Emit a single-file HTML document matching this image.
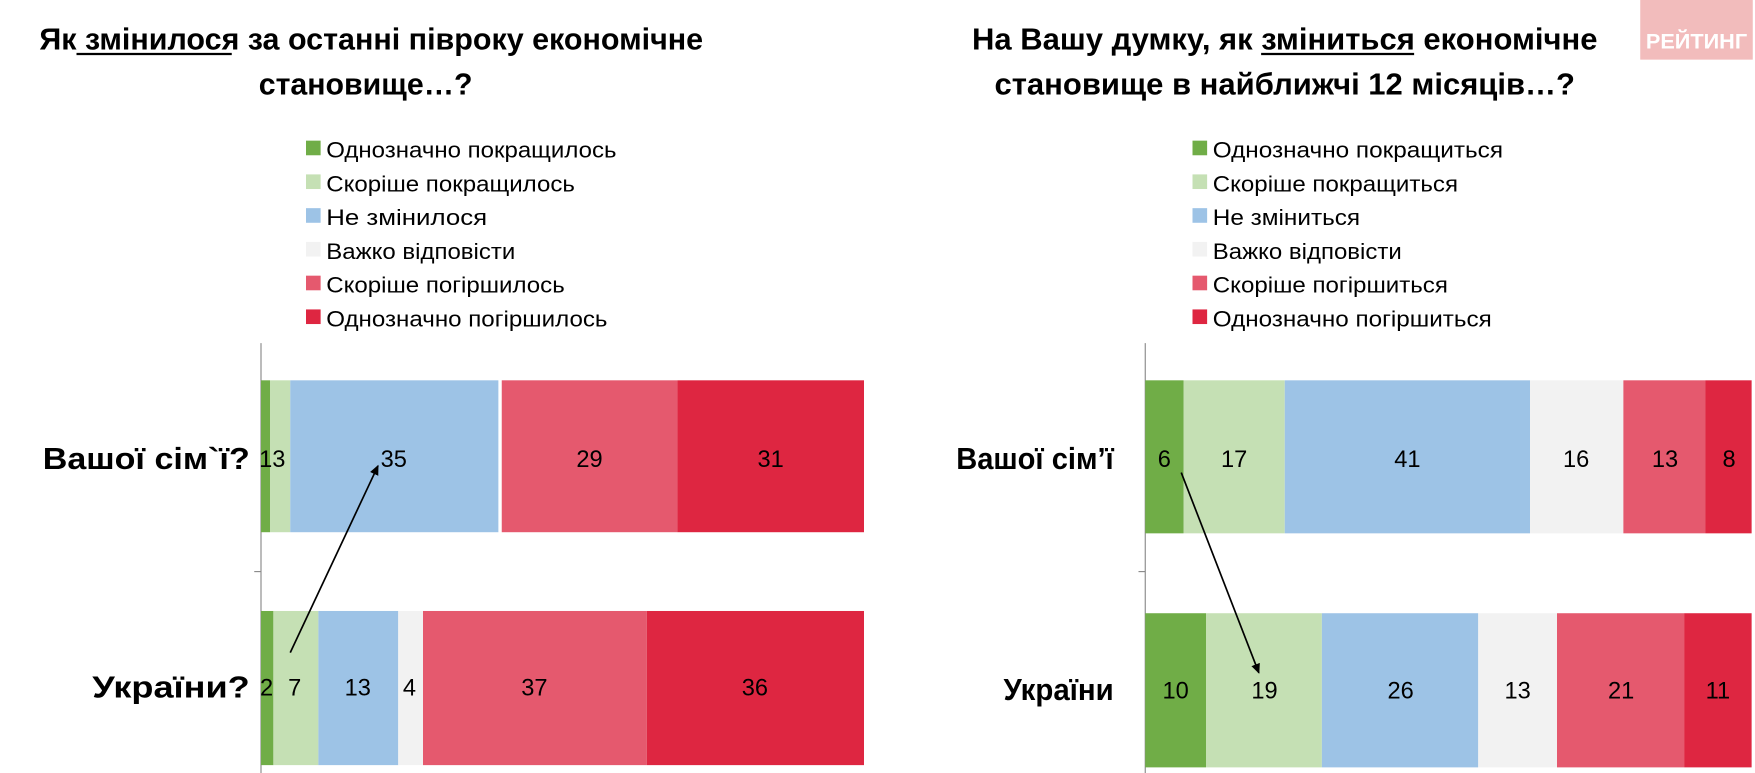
<!DOCTYPE html>
<html><head><meta charset="utf-8">
<style>
html,body{margin:0;padding:0;background:#fff;}
svg{display:block;}
text{font-family:"Liberation Sans Narrow","Liberation Sans",sans-serif;fill:#000;}
.t{font-weight:bold;font-size:27px;}
.l{font-size:20px;}
.c{font-weight:bold;font-size:27px;}
.v{font-size:21px;}
</style></head><body>
<svg width="1755" height="773" viewBox="0 0 1560 687" preserveAspectRatio="none" xmlns="http://www.w3.org/2000/svg">
<defs><marker id="ah" markerWidth="10" markerHeight="10" refX="8" refY="5" orient="auto" markerUnits="userSpaceOnUse"><path d="M0,1 L9,5 L0,9 z" fill="#000"/></marker></defs>
<text class="t" x="35" y="44" textLength="590" lengthAdjust="spacingAndGlyphs">Як змінилося за останні півроку економічне</text>
<line x1="68" y1="48" x2="206" y2="48" stroke="#000" stroke-width="2"/>
<text class="t" x="230" y="84" textLength="190" lengthAdjust="spacingAndGlyphs">становище…?</text>
<text class="t" x="864" y="44" textLength="556" lengthAdjust="spacingAndGlyphs">На Вашу думку, як зміниться економічне</text>
<line x1="1121" y1="48" x2="1257" y2="48" stroke="#000" stroke-width="2"/>
<text class="t" x="884" y="84" textLength="516" lengthAdjust="spacingAndGlyphs">становище в найближчі 12 місяців…?</text>
<rect x="1458" y="0" width="100" height="53" fill="#f2bcbc"/>
<text x="1508" y="43" text-anchor="middle" font-weight="bold" font-size="19" style="fill:#fff" textLength="90" lengthAdjust="spacingAndGlyphs">РЕЙТИНГ</text>
<rect x="272" y="125" width="13" height="13" fill="#70ad47"/><text class="l" x="290" y="140" textLength="258" lengthAdjust="spacingAndGlyphs">Однозначно покращилось</text>
<rect x="272" y="155" width="13" height="13" fill="#c5e0b4"/><text class="l" x="290" y="170" textLength="221" lengthAdjust="spacingAndGlyphs">Скоріше покращилось</text>
<rect x="272" y="185" width="13" height="13" fill="#9dc3e6"/><text class="l" x="290" y="200" textLength="143" lengthAdjust="spacingAndGlyphs">Не змінилося</text>
<rect x="272" y="215" width="13" height="13" fill="#f2f2f2"/><text class="l" x="290" y="230" textLength="168" lengthAdjust="spacingAndGlyphs">Важко відповісти</text>
<rect x="272" y="245" width="13" height="13" fill="#e5596e"/><text class="l" x="290" y="260" textLength="212" lengthAdjust="spacingAndGlyphs">Скоріше погіршилось</text>
<rect x="272" y="275" width="13" height="13" fill="#de2641"/><text class="l" x="290" y="290" textLength="250" lengthAdjust="spacingAndGlyphs">Однозначно погіршилось</text>
<rect x="1060" y="125" width="13" height="13" fill="#70ad47"/><text class="l" x="1078" y="140" textLength="258" lengthAdjust="spacingAndGlyphs">Однозначно покращиться</text>
<rect x="1060" y="155" width="13" height="13" fill="#c5e0b4"/><text class="l" x="1078" y="170" textLength="218" lengthAdjust="spacingAndGlyphs">Скоріше покращиться</text>
<rect x="1060" y="185" width="13" height="13" fill="#9dc3e6"/><text class="l" x="1078" y="200" textLength="131" lengthAdjust="spacingAndGlyphs">Не зміниться</text>
<rect x="1060" y="215" width="13" height="13" fill="#f2f2f2"/><text class="l" x="1078" y="230" textLength="168" lengthAdjust="spacingAndGlyphs">Важко відповісти</text>
<rect x="1060" y="245" width="13" height="13" fill="#e5596e"/><text class="l" x="1078" y="260" textLength="209" lengthAdjust="spacingAndGlyphs">Скоріше погіршиться</text>
<rect x="1060" y="275" width="13" height="13" fill="#de2641"/><text class="l" x="1078" y="290" textLength="248" lengthAdjust="spacingAndGlyphs">Однозначно погіршиться</text>
<line x1="232" y1="305" x2="232" y2="687" stroke="#888" stroke-width="1"/>
<line x1="226" y1="508" x2="232" y2="508" stroke="#888" stroke-width="1"/>
<rect x="232" y="338" width="8" height="135" fill="#70ad47"/>
<rect x="240" y="338" width="18" height="135" fill="#c5e0b4"/>
<rect x="258" y="338" width="185" height="135" fill="#9dc3e6"/>
<rect x="446" y="338" width="156" height="135" fill="#e5596e"/>
<rect x="602" y="338" width="166" height="135" fill="#de2641"/>
<text class="v" x="242" y="415" text-anchor="middle">13</text>
<text class="v" x="350" y="415" text-anchor="middle">35</text>
<text class="v" x="524" y="415" text-anchor="middle">29</text>
<text class="v" x="685" y="415" text-anchor="middle">31</text>
<rect x="232" y="543" width="11" height="137" fill="#70ad47"/>
<rect x="243" y="543" width="40" height="137" fill="#c5e0b4"/>
<rect x="283" y="543" width="71" height="137" fill="#9dc3e6"/>
<rect x="354" y="543" width="22" height="137" fill="#f2f2f2"/>
<rect x="376" y="543" width="199" height="137" fill="#e5596e"/>
<rect x="575" y="543" width="193" height="137" fill="#de2641"/>
<text class="v" x="237" y="618" text-anchor="middle">2</text>
<text class="v" x="262" y="618" text-anchor="middle">7</text>
<text class="v" x="318" y="618" text-anchor="middle">13</text>
<text class="v" x="364" y="618" text-anchor="middle">4</text>
<text class="v" x="475" y="618" text-anchor="middle">37</text>
<text class="v" x="671" y="618" text-anchor="middle">36</text>
<text class="c" x="222" y="417" text-anchor="end" textLength="184" lengthAdjust="spacingAndGlyphs">Вашої сім`ї?</text>
<text class="c" x="222" y="620" text-anchor="end" textLength="140" lengthAdjust="spacingAndGlyphs">України?</text>
<line x1="258" y1="580" x2="336" y2="414" stroke="#000" stroke-width="1.5" marker-end="url(#ah)"/>
<line x1="1018" y1="305" x2="1018" y2="687" stroke="#888" stroke-width="1"/>
<line x1="1012" y1="508" x2="1018" y2="508" stroke="#888" stroke-width="1"/>
<rect x="1018" y="338" width="34" height="136" fill="#70ad47"/>
<rect x="1052" y="338" width="90" height="136" fill="#c5e0b4"/>
<rect x="1142" y="338" width="218" height="136" fill="#9dc3e6"/>
<rect x="1360" y="338" width="83" height="136" fill="#f2f2f2"/>
<rect x="1443" y="338" width="73" height="136" fill="#e5596e"/>
<rect x="1516" y="338" width="41" height="136" fill="#de2641"/>
<text class="v" x="1035" y="415" text-anchor="middle">6</text>
<text class="v" x="1097" y="415" text-anchor="middle">17</text>
<text class="v" x="1251" y="415" text-anchor="middle">41</text>
<text class="v" x="1401" y="415" text-anchor="middle">16</text>
<text class="v" x="1480" y="415" text-anchor="middle">13</text>
<text class="v" x="1537" y="415" text-anchor="middle">8</text>
<rect x="1018" y="545" width="54" height="137" fill="#70ad47"/>
<rect x="1072" y="545" width="103" height="137" fill="#c5e0b4"/>
<rect x="1175" y="545" width="139" height="137" fill="#9dc3e6"/>
<rect x="1314" y="545" width="70" height="137" fill="#f2f2f2"/>
<rect x="1384" y="545" width="113" height="137" fill="#e5596e"/>
<rect x="1497" y="545" width="60" height="137" fill="#de2641"/>
<text class="v" x="1045" y="621" text-anchor="middle">10</text>
<text class="v" x="1124" y="621" text-anchor="middle">19</text>
<text class="v" x="1245" y="621" text-anchor="middle">26</text>
<text class="v" x="1349" y="621" text-anchor="middle">13</text>
<text class="v" x="1441" y="621" text-anchor="middle">21</text>
<text class="v" x="1527" y="621" text-anchor="middle">11</text>
<text class="c" x="990" y="417" text-anchor="end" textLength="140" lengthAdjust="spacingAndGlyphs">Вашої сім’ї</text>
<text class="c" x="990" y="622" text-anchor="end" textLength="98" lengthAdjust="spacingAndGlyphs">України</text>
<line x1="1050" y1="420" x2="1119" y2="598" stroke="#000" stroke-width="1.5" marker-end="url(#ah)"/>
</svg>
</body></html>
